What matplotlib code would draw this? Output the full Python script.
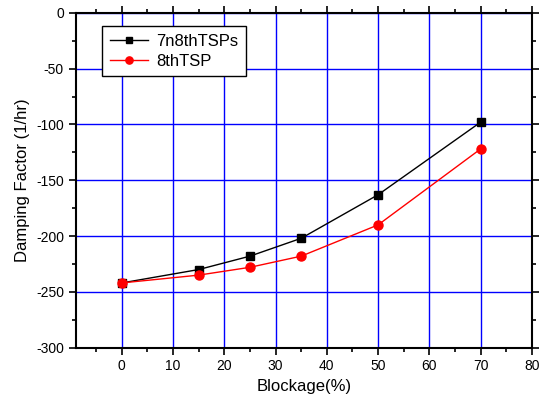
import matplotlib
matplotlib.use('Agg')
import matplotlib.pyplot as plt
from matplotlib.ticker import MultipleLocator

plt.rcParams['font.family'] = ['Liberation Sans', 'DejaVu Sans']
plt.rcParams['axes.unicode_minus'] = False

blockage = [0, 15, 25, 35, 50, 70]
tsp78 = [-242, -230, -218, -202, -163, -98]
tsp8 = [-242, -235, -228, -218, -190, -122]

fig = plt.figure(figsize=(5.41, 4.01), dpi=100)
ax = fig.add_axes([0.14, 0.133, 0.843, 0.835])

ax.plot(blockage, tsp78, color='black', lw=1, marker='s', ms=6, label='7n8thTSPs', zorder=3)
ax.plot(blockage, tsp8, color='red', lw=1, marker='o', ms=6.5, label='8thTSP', zorder=3)

ax.set_xlim(-9, 80)
ax.set_ylim(-300, 0)
ax.xaxis.set_major_locator(MultipleLocator(10))
ax.xaxis.set_minor_locator(MultipleLocator(5))
ax.yaxis.set_major_locator(MultipleLocator(50))
ax.yaxis.set_minor_locator(MultipleLocator(25))
ax.grid(True, which='major', color='#0000ff', lw=1)
ax.set_axisbelow(True)

ax.tick_params(which='both', direction='out', top=True, right=True, labelsize=10, width=1.2)
ax.tick_params(which='major', length=5)
ax.tick_params(which='minor', length=3)
for s in ax.spines.values():
    s.set_linewidth(1.5)

ax.set_xlabel('Blockage(%)', fontsize=12)
ax.set_ylabel('Damping Factor (1/hr)', fontsize=12)

leg = ax.legend(loc='upper left', bbox_to_anchor=(0.04, 0.985), fontsize=12,
                fancybox=False, edgecolor='black', framealpha=1, markerscale=0.8,
                handlelength=2.3, handletextpad=0.5, borderpad=0.45, labelspacing=0.3)
leg.get_frame().set_linewidth(1)

fig.savefig('out.png', dpi=100)
